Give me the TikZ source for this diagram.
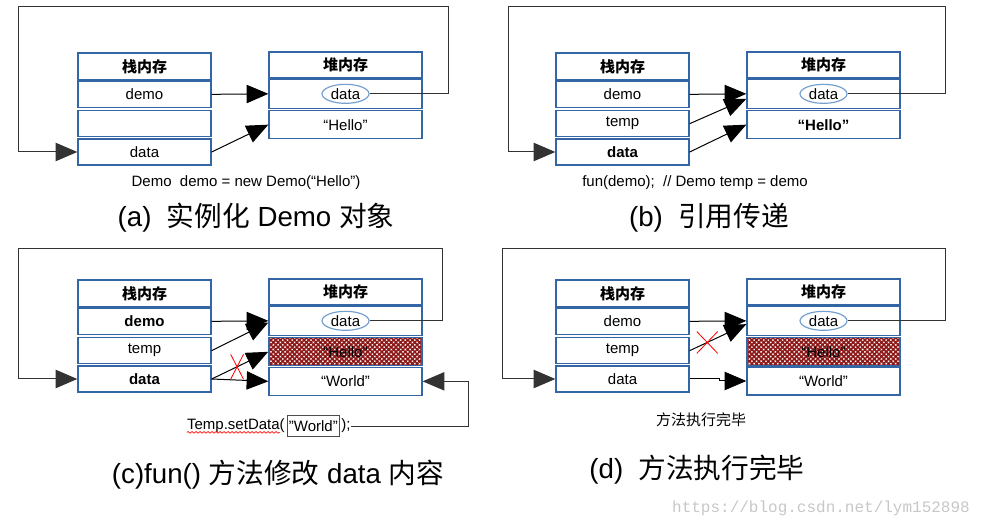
\documentclass[tikz,border=0pt]{standalone}
\usepackage{fontspec}
\setmainfont{Liberation Sans}
\setmonofont{Liberation Mono}
\newfontfamily\cjk{Noto Sans CJK SC}
\usetikzlibrary{positioning,arrows.meta,shapes.geometric,shapes.misc,patterns.meta,decorations.pathmorphing}
\definecolor{cellblue}{RGB}{52,101,164}
\definecolor{ringblue}{RGB}{114,159,207}
\definecolor{hatchred}{RGB}{140,24,24}
\newcommand{\pxu}{0.6pt}

\tikzset{
  cell/.style={draw=cellblue, line width=0.8pt, fill=white, inner sep=0pt, font=\fontsize{9}{11}\selectfont},
  stk/.style={cell, minimum width=133*\pxu, minimum height=26*\pxu},
  hp/.style={cell, minimum width=153*\pxu, minimum height=28*\pxu},
  ring/.style={ellipse, draw=ringblue, line width=0.7pt, fill=white, minimum width=47*\pxu, minimum height=19*\pxu, inner sep=0pt, font=\fontsize{9}{11}\selectfont},
  hatched/.style={pattern={Hatch[angle=45,distance=2pt,line width=1pt]}, pattern color=hatchred},
  ptr/.style={-{Triangle[length=13pt,width=11pt]}, line width=0.6pt},
  loop/.style={ptr, draw=black!80},
  crossed/.style={cross out, draw=red, line width=0.5pt, inner sep=0pt},
  code/.style={font=\fontsize{9}{11}\selectfont, inner sep=0pt},
  caption/.style={font=\fontsize{16.6}{20}\selectfont, inner sep=0pt},
}

\begin{document}
\begin{tikzpicture}[x=\pxu, y=-\pxu]
\useasboundingbox (0,0) rectangle (984,531);

% common part of the four panels
\foreach \p/\sx/\sy/\dm/\tp/\dt/\lx/\rx/\ty in {
    a/0/0/demo/{}/data/18/448/7,
    b/478/0/demo/temp/{\bfseries data}/30/467/7,
    c/0/227/{\bfseries demo}/temp/{\bfseries data}/18/442/22,
    d/478/227/demo/temp/data/24/467/22}{
  \begin{scope}[shift={(\sx,\sy)}]
    \node[stk, minimum height=27*\pxu, text depth=-2pt] (\p-sh) at (144.5,66.5) {\cjk\bfseries 栈内存};
    \node[stk, below=0pt of \p-sh] (\p-sd) {\dm};
    \node[stk, below=1.2pt of \p-sd] (\p-st) {\tp};
    \node[stk, below=0.6pt of \p-st] (\p-sa) {\dt};
    \node[hp, minimum height=26*\pxu] (\p-hh) at (345.5,65) {\cjk\bfseries 堆内存};
    \node[hp, minimum height=29*\pxu, below=0pt of \p-hh] (\p-hd) {};
    \node[ring] (\p-r) at (\p-hd) {data};
    \draw[ptr] (\p-sd.east) -- (\p-hd.west);
    \draw[loop] (\p-r.east) -| (\rx,\ty) -- (\lx,\ty) |- (\p-sa.west);
  \end{scope}
}

% (a)
\node[hp, below=0.6pt of a-hd] (a-he) {“Hello”};
\draw[ptr] (a-sa.east) -- (a-he.west);
\node[code] (a-code) at (246,183) {Demo\ \ demo = new Demo(“Hello”)};
\node[caption] (a-cap) at (256,218) {(a)\ \ {\cjk 实例化} Demo {\cjk 对象}};

% (b)
\node[hp, below=0.6pt of b-hd] (b-he) {\bfseries “Hello”};
\draw[ptr] (b-st.east) -- ([yshift=-3pt]b-hd.west);
\draw[ptr] (b-sa.east) -- (b-he.west);
\node[code] (b-code) at (695,183) {fun(demo);\ \ // Demo temp = demo};
\node[caption] (b-cap) at (709,218) {(b)\ \ {\cjk 引用传递}};

% (c)
\node[hp, hatched, below=0.6pt of c-hd] (c-he) {“Hello”};
\node[hp, below=0pt of c-he] (c-hw) {“World”};
\draw[ptr] (c-st.east) -- ([yshift=-1pt]c-hd.west);
\draw[ptr] (c-sa.east) -- (c-he.west)
  node[crossed, pos=0.45, minimum width=12*\pxu, minimum height=24*\pxu] (c-x) {};
\draw[ptr] (c-sa.east) -- (c-hw.west);
\node[code, anchor=east] (c-set) at (285,426) {Temp.setData(};
\node[code, draw=black!70, line width=0.7pt, inner xsep=1pt, minimum height=21*\pxu, right=1pt of c-set] (c-val) {"World"};
\node[code, right=0.6pt of c-val] (c-end) {);};
\draw[red, line width=0.4pt, decorate, decoration={snake, amplitude=0.5pt, segment length=2.4pt}]
  ([yshift=-1.5pt]c-set.base west) -- ([xshift=-3pt,yshift=-1.5pt]c-set.base east);
\draw[loop] (c-end.east) -- (468,426) |- (c-hw.east);
\node[caption] (c-cap) at (278,475) {(c)fun() {\cjk 方法修改} data {\cjk 内容}};

% (d)
\node[hp, hatched, below=0.6pt of d-hd] (d-he) {“Hello”};
\node[hp, below=0pt of d-he] (d-hw) {“World”};
\draw[ptr] (d-st.east) -- ([yshift=-2pt]d-hd.west)
  node[crossed, pos=0.31, minimum width=20*\pxu, minimum height=21*\pxu] (d-x) {};
\draw[ptr] (d-sa.east) -- ++(30,0) |- (d-hw.west);
\node[code] (d-code) at (701,420) {\cjk 方法执行完毕};
\node[caption] (d-cap) at (697,470) {(d)\ \ {\cjk 方法执行完毕}};

\node[font=\ttfamily\fontsize{9.6}{11}\selectfont, text=black!22, inner sep=0pt] (mark) at (821,508) {https://blog.csdn.net/lym152898};
\end{tikzpicture}
\end{document}
